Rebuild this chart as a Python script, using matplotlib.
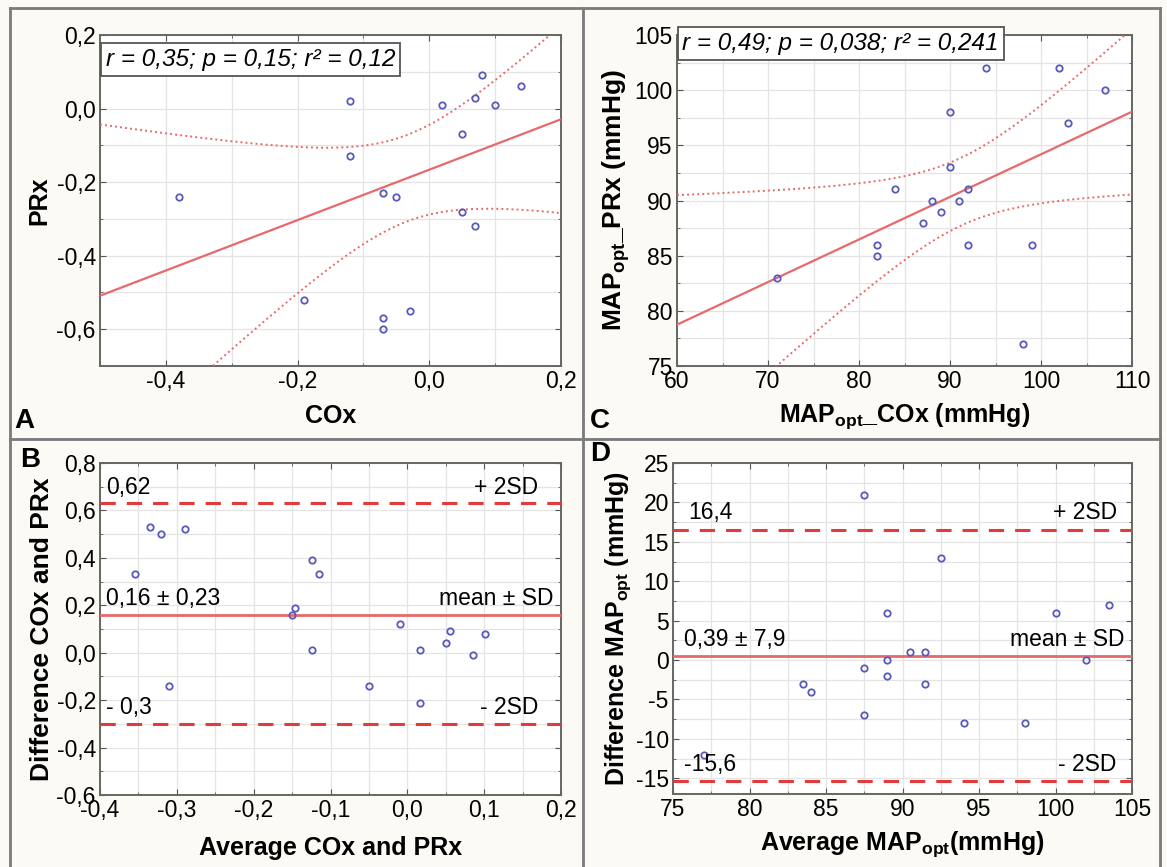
import numpy as np
import matplotlib
matplotlib.use("Agg")
import matplotlib.pyplot as plt
from matplotlib.ticker import MultipleLocator, FuncFormatter
from matplotlib.lines import Line2D

plt.rcParams['font.family'] = ['Liberation Sans', 'DejaVu Sans']
plt.rcParams['mathtext.fontset'] = 'custom'
plt.rcParams['mathtext.rm'] = 'Liberation Sans'
plt.rcParams['mathtext.bf'] = 'Liberation Sans:bold'
plt.rcParams['mathtext.it'] = 'Liberation Sans:italic'

# --- data ---
# Panel A: COx vs PRx
cox = [-0.12, -0.12, -0.38, -0.07, -0.05, -0.19, -0.07, -0.07, -0.03,
       0.02, 0.05, 0.05, 0.07, 0.07, 0.08, 0.10, 0.14, -0.09]
prx = [0.02, -0.13, -0.24, -0.23, -0.24, -0.52, -0.57, -0.60, -0.55,
       0.01, -0.07, -0.28, 0.03, -0.32, 0.09, 0.01, 0.06, 0.12]

# Panel B: Bland-Altman COx / PRx
avg_b = [-0.354, -0.335, -0.32, -0.289, -0.31, -0.15, -0.146, -0.124, -0.115,
         -0.124, -0.05, -0.01, 0.016, 0.016, 0.05, 0.055, 0.086, 0.101]
diff_b = [0.33, 0.53, 0.50, 0.52, -0.14, 0.16, 0.19, 0.39, 0.33,
          0.01, -0.14, 0.12, 0.01, -0.21, 0.04, 0.09, -0.01, 0.08]
b_mean, b_upper, b_lower = 0.16, 0.63, -0.30

# Panel C: MAPopt_COx vs MAPopt_PRx
map_cox = [71, 82, 82, 84, 87, 88, 89, 90, 90, 91, 92, 92, 94, 98, 99, 102, 103, 107]
map_prx = [83, 86, 85, 91, 88, 90, 89, 93, 98, 90, 91, 86, 102, 77, 86, 102, 97, 100]

# Panel D: Bland-Altman MAPopt
avg_d = [87.5, 92.5, 89, 100, 103.5, 90.5, 91.5, 89, 102, 87.5, 89, 83.5, 84,
         91.5, 87.5, 94, 98, 77]
diff_d = [21, 13, 6, 6, 7, 1, 1, 0, 0, -1, -2, -3, -4, -3, -7, -8, -8, -12]
d_mean, d_upper, d_lower = 0.5, 16.5, -15.4

T_975 = 2.12  # t quantile, df = 16

RED = '#e8696b'
DASH_RED = '#e23b3b'
BLUE = '#5a5ab8'
BG = '#fbfaf5'
TICK_FS = 16.5
LAB_FS = 18


def comma(v, pos, fmt):
    return fmt.format(v).replace('.', ',')


def style_axes(ax, xmaj, xmin, ymaj, ymin, xfmt, yfmt):
    ax.set_facecolor('white')
    ax.xaxis.set_major_locator(MultipleLocator(xmaj))
    ax.xaxis.set_minor_locator(MultipleLocator(xmin))
    ax.yaxis.set_major_locator(MultipleLocator(ymaj))
    ax.yaxis.set_minor_locator(MultipleLocator(ymin))
    ax.xaxis.set_major_formatter(FuncFormatter(lambda v, p: comma(v, p, xfmt)))
    ax.yaxis.set_major_formatter(FuncFormatter(lambda v, p: comma(v, p, yfmt)))
    ax.tick_params(which='both', direction='in', top=True, right=True,
                   color='#555555', labelsize=TICK_FS)
    ax.tick_params(which='major', length=4, pad=3)
    ax.tick_params(which='minor', length=2.5)
    ax.grid(True, which='both', color='#e4e4e4', lw=0.9)
    ax.set_axisbelow(True)
    for s in ax.spines.values():
        s.set_color('#666666')
        s.set_linewidth(1.4)


def regression(ax, x, y, xlo, xhi):
    x = np.asarray(x, float)
    y = np.asarray(y, float)
    n = len(x)
    b, a = np.polyfit(x, y, 1)
    resid = y - (a + b * x)
    s = np.sqrt(np.sum(resid ** 2) / (n - 2))
    sxx = np.sum((x - x.mean()) ** 2)
    xs = np.linspace(xlo, xhi, 300)
    yh = a + b * xs
    half = T_975 * s * np.sqrt(1.0 / n + (xs - x.mean()) ** 2 / sxx)
    ax.plot(xs, yh, color=RED, lw=1.6, zorder=3)
    ax.plot(xs, yh + half, color=RED, lw=1.4, ls=(0, (1, 1.6)), zorder=3)
    ax.plot(xs, yh - half, color=RED, lw=1.4, ls=(0, (1, 1.6)), zorder=3)


def points(ax, x, y):
    ax.plot(x, y, 'o', ms=4.6, mfc='none', mec=BLUE, mew=1.3, zorder=4)


fig = plt.figure(figsize=(11.67, 8.67), dpi=100)
fig.patch.set_facecolor(BG)

W, H = 1167.0, 867.0


def pos(l, t, r, b):
    return [l / W, 1 - b / H, (r - l) / W, (b - t) / H]


axA = fig.add_axes(pos(100, 35, 561, 366))
axC = fig.add_axes(pos(677, 35, 1132, 366))
axB = fig.add_axes(pos(100, 463, 561, 795))
axD = fig.add_axes(pos(673, 463, 1132, 794))

box = dict(boxstyle='square,pad=0.2', fc='white', ec='#555555', lw=1.3)

# ---- A ----
style_axes(axA, 0.2, 0.1, 0.2, 0.1, '{:.1f}', '{:.1f}')
axA.set_xlim(-0.5, 0.2)
axA.set_ylim(-0.7, 0.2)
regression(axA, cox, prx, -0.5, 0.2)
points(axA, cox, prx)
axA.set_xlabel('COx', fontsize=LAB_FS, fontweight='bold', labelpad=8)
axA.set_ylabel('PRx', fontsize=LAB_FS, fontweight='bold', labelpad=4)
axA.text(0.012, 0.96, 'r = 0,35; p = 0,15; r² = 0,12', transform=axA.transAxes,
         fontsize=17.5, style='italic', va='top', ha='left', zorder=6, bbox=box)

# ---- C ----
style_axes(axC, 10, 5, 5, 2.5, '{:.0f}', '{:.0f}')
axC.set_xlim(60, 110)
axC.set_ylim(75, 105)
regression(axC, map_cox, map_prx, 60, 110)
points(axC, map_cox, map_prx)
axC.set_xlabel(r'MAP$_{\mathbf{opt}}$_COx (mmHg)', fontsize=LAB_FS, fontweight='bold', labelpad=6)
axC.set_ylabel(r'MAP$_{\mathbf{opt}}$_PRx (mmHg)', fontsize=LAB_FS + 1, fontweight='bold', labelpad=2)
axC.text(0.012, 1.01, 'r = 0,49; p = 0,038; r² = 0,241', transform=axC.transAxes,
         fontsize=17.5, style='italic', va='top', ha='left', zorder=6, bbox=box,
         clip_on=False)

# ---- B ----
style_axes(axB, 0.1, 0.05, 0.2, 0.1, '{:.1f}', '{:.1f}')
axB.set_xlim(-0.4, 0.2)
axB.set_ylim(-0.6, 0.8)
axB.axhline(b_mean, color=RED, lw=2, zorder=3)
axB.axhline(b_upper, color=DASH_RED, lw=2.2, dashes=(5, 3.6), zorder=3)
axB.axhline(b_lower, color=DASH_RED, lw=2.2, dashes=(5, 3.6), zorder=3)
points(axB, avg_b, diff_b)
tk = dict(fontsize=16.5, zorder=5)
axB.text(-0.392, b_upper + 0.02, '0,62', ha='left', va='bottom', **tk)
axB.text(0.17, b_upper + 0.02, '+ 2SD', ha='right', va='bottom', **tk)
axB.text(-0.392, b_mean + 0.02, '0,16 ± 0,23', ha='left', va='bottom', **tk)
axB.text(0.19, b_mean + 0.02, 'mean ± SD', ha='right', va='bottom', **tk)
axB.text(-0.392, b_lower + 0.02, '- 0,3', ha='left', va='bottom', **tk)
axB.text(0.17, b_lower + 0.02, '- 2SD', ha='right', va='bottom', **tk)
axB.set_xlabel('Average COx and PRx', fontsize=LAB_FS, fontweight='bold', labelpad=10)
axB.set_ylabel('Difference COx and PRx', fontsize=LAB_FS + 1, fontweight='bold', labelpad=2)

# ---- D ----
style_axes(axD, 5, 2.5, 5, 2.5, '{:.0f}', '{:.0f}')
axD.set_xlim(75, 105)
axD.set_ylim(-17, 25)
axD.axhline(d_mean, color=RED, lw=2, zorder=3)
axD.axhline(d_upper, color=DASH_RED, lw=2.2, dashes=(5, 3.6), zorder=3)
axD.axhline(d_lower, color=DASH_RED, lw=2.2, dashes=(5, 3.6), zorder=3)
points(axD, avg_d, diff_d)
axD.text(76, d_upper + 0.7, '16,4', ha='left', va='bottom', **tk)
axD.text(104, d_upper + 0.7, '+ 2SD', ha='right', va='bottom', **tk)
axD.text(75.7, d_mean + 0.7, '0,39 ± 7,9', ha='left', va='bottom', **tk)
axD.text(104.5, d_mean + 0.7, 'mean ± SD', ha='right', va='bottom', **tk)
axD.text(75.7, d_lower + 0.7, '-15,6', ha='left', va='bottom', **tk)
axD.text(104, d_lower + 0.7, '- 2SD', ha='right', va='bottom', **tk)
axD.set_xlabel(r'Average MAP$_{\mathbf{opt}}$(mmHg)', fontsize=LAB_FS, fontweight='bold', labelpad=6)
axD.set_ylabel(r'Difference MAP$_{\mathbf{opt}}$ (mmHg)', fontsize=LAB_FS, fontweight='bold', labelpad=2)

# ---- panel letters ----
lk = dict(fontsize=20, fontweight='bold', ha='left', va='center')
fig.text(14 / W, 1 - 421 / H, 'A', **lk)
fig.text(590 / W, 1 - 421 / H, 'C', **lk)
fig.text(20 / W, 1 - 460 / H, 'B', **lk)
fig.text(590 / W, 1 - 454 / H, 'D', **lk)

# ---- frame and dividers ----
fc = '#7a7a7a'
fig.add_artist(Line2D([10 / W, 10 / W], [0, 1 - 8 / H], color=fc, lw=2))
fig.add_artist(Line2D([10 / W, 1160 / W], [1 - 8 / H, 1 - 8 / H], color=fc, lw=2))
fig.add_artist(Line2D([1160 / W, 1160 / W], [0, 1 - 8 / H], color=fc, lw=2))
fig.add_artist(Line2D([583 / W, 583 / W], [0, 1 - 8 / H], color=fc, lw=2))
fig.add_artist(Line2D([10 / W, 1160 / W], [1 - 439 / H, 1 - 439 / H], color=fc, lw=2))

fig.savefig('out.png', dpi=100, facecolor=BG)
